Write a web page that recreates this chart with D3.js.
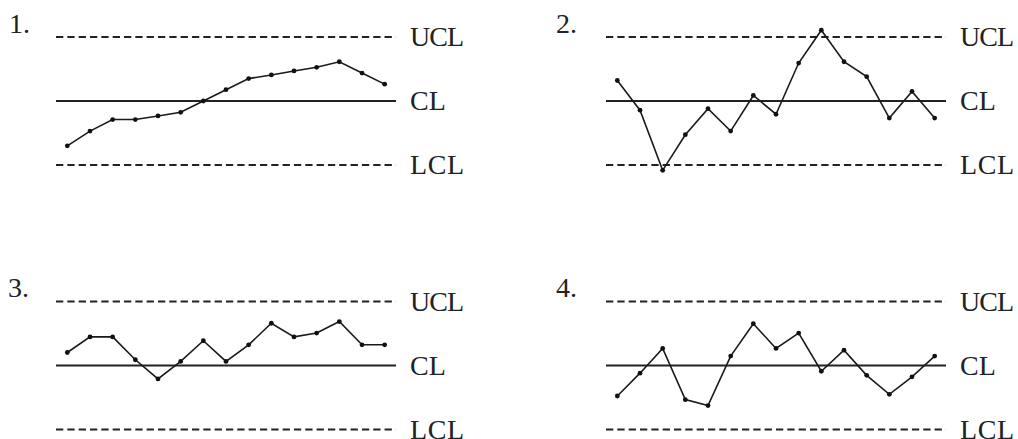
<!DOCTYPE html>
<html>
<head>
<meta charset="utf-8">
<script src="https://cdn.jsdelivr.net/npm/d3@7"></script>
<style>
    body { margin: 0; background: #fff; }
    svg { display: block; }
    .label { font-family: "Liberation Serif", "DejaVu Serif", serif; font-size: 28px; fill: #222; }
</style>
</head>
<body>
<script>
// control chart data (in sigma units, CL = 0, UCL = 3, LCL = -3)
var panelNames = ["1.", "2.", "3.", "4."];
var limitLabels = ["UCL", "CL", "LCL"];
var limitValues = [3, 0, -3];

var series1 = [-2.10, -1.41, -0.87, -0.87, -0.70, -0.53, 0.00, 0.53, 1.05, 1.22, 1.41, 1.58, 1.84, 1.31, 0.79];
var series2 = [0.96, -0.43, -3.25, -1.58, -0.36, -1.41, 0.26, -0.62, 1.78, 3.32, 1.84, 1.14, -0.80, 0.45, -0.80];
var series3 = [0.61, 1.34, 1.34, 0.27, -0.63, 0.19, 1.16, 0.19, 0.97, 1.98, 1.34, 1.52, 2.06, 0.97, 0.97];
var series4 = [-1.43, -0.36, 0.80, -1.60, -1.88, 0.44, 1.96, 0.80, 1.52, -0.27, 0.72, -0.46, -1.35, -0.53, 0.44];

var allSeries = [series1, series2, series3, series4];

window.onload = drawCharts();

function drawCharts(){
    var width = 1018,
        height = 439;

    var svg = d3.select("body")
        .append("svg")
        .attr("width", width)
        .attr("height", height);

    //panel frames: left edge of the lines and center line y
    var panels = [
        {x: 56, cl: 101, lx: 9, ly: 33},
        {x: 606, cl: 101, lx: 556, ly: 33},
        {x: 56, cl: 365.5, lx: 8, ly: 297},
        {x: 606, cl: 365.5, lx: 556, ly: 297}
    ];
    var lineWidth = 340,
        halfHeight = 64;

    panels.forEach(function(p, k){
        var data = allSeries[k];

        var xScale = d3.scaleLinear()
            .domain([-0.5, data.length - 0.5])
            .range([p.x, p.x + lineWidth]);

        var yScale = d3.scaleLinear()
            .domain([-3, 3])
            .range([p.cl + halfHeight, p.cl - halfHeight]);

        var g = svg.append("g");

        //panel number
        g.append("text")
            .attr("class", "label")
            .attr("x", p.lx)
            .attr("y", p.ly)
            .text(panelNames[k]);

        //limit lines
        limitValues.forEach(function(v, i){
            g.append("line")
                .attr("x1", xScale(-0.5))
                .attr("x2", xScale(data.length - 0.5))
                .attr("y1", yScale(v))
                .attr("y2", yScale(v))
                .attr("stroke", "#222")
                .attr("stroke-width", 2)
                .attr("stroke-dasharray", v == 0 ? null : "7.3,4.03");

            g.append("text")
                .attr("class", "label")
                .attr("x", xScale(data.length - 0.5) + 14)
                .attr("y", yScale(v) + 9)
                .attr("textLength", limitLabels[i].length == 3 ? 54 : null)
                .text(limitLabels[i]);
        });

        //data line
        var line = d3.line()
            .x(function(d, i){ return xScale(i); })
            .y(function(d){ return yScale(d); });

        g.append("path")
            .datum(data)
            .attr("d", line)
            .attr("fill", "none")
            .attr("stroke", "#1a1a1a")
            .attr("stroke-width", 1.6);

        g.selectAll(".dot")
            .data(data)
            .enter()
            .append("circle")
            .attr("class", "dot")
            .attr("cx", function(d, i){ return xScale(i); })
            .attr("cy", function(d){ return yScale(d); })
            .attr("r", 2.4)
            .attr("fill", "#111");
    });
};
</script>
</body>
</html>
